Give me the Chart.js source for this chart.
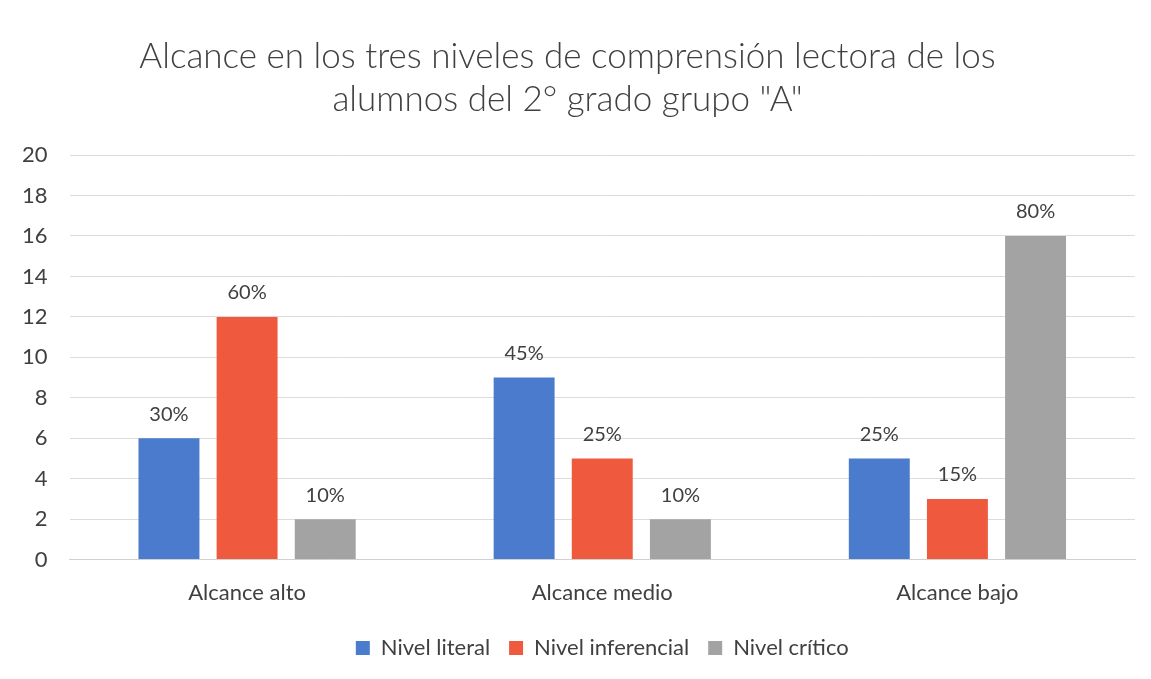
<!DOCTYPE html>
<html>
<head>
<meta charset="utf-8">
<script src="https://cdn.jsdelivr.net/npm/chart.js@4"></script>
<style>
  html, body { margin: 0; padding: 0; background: #fff; }
  #wrap { width: 1151px; height: 679px; }
</style>
</head>
<body>
<div id="wrap"><canvas id="myChart"></canvas></div>
<script>
const categories = ["Alcance alto", "Alcance medio", "Alcance bajo"]
const literal = [6, 9, 5]
const inferencial = [12, 5, 3]
const critico = [2, 2, 16]
const literalPct = ["30%", "45%", "25%"]
const inferencialPct = ["60%", "25%", "15%"]
const criticoPct = ["10%", "10%", "80%"]

const fontFamily = "Lato, 'Open Sans', sans-serif"

// draws the percent above each bar
const barLabels = {
    id: "barLabels",
    afterDatasetsDraw(chart) {
        const ctx = chart.ctx
        ctx.save()
        ctx.font = "20px " + fontFamily
        ctx.fillStyle = "#404040"
        ctx.textAlign = "center"
        ctx.textBaseline = "middle"
        chart.data.datasets.forEach((ds, i) => {
            chart.getDatasetMeta(i).data.forEach((bar, j) => {
                ctx.fillText(ds.pctLabels[j], bar.x, bar.y - 24)
            })
        })
        ctx.restore()
    }
}

const ctx = document.getElementById("myChart").getContext("2d")

new Chart(ctx, {
    type: "bar",
    data: {
        labels: categories,
        datasets: [
            { label: "Nivel literal", data: literal, pctLabels: literalPct, backgroundColor: "#4a7bcc" },
            { label: "Nivel inferencial", data: inferencial, pctLabels: inferencialPct, backgroundColor: "#ef5a3e" },
            { label: "Nivel crítico", data: critico, pctLabels: criticoPct, backgroundColor: "#a3a3a3" }
        ]
    },
    options: {
        responsive: true,
        maintainAspectRatio: false,
        animation: false,
        layout: { padding: { left: 0, right: 16, top: 35, bottom: 10 } },
        datasets: {
            bar: { barPercentage: 0.78, categoryPercentage: 0.66 }
        },
        scales: {
            x: {
                grid: { display: false },
                border: { color: "#d0d0d0" },
                ticks: { color: "#404040", font: { family: fontFamily, size: 22 }, padding: 12 }
            },
            y: {
                min: 0,
                max: 20,
                ticks: { stepSize: 2, color: "#404040", font: { family: fontFamily, size: 22 }, padding: 22 },
                grid: { color: "#dcdcdc", drawTicks: false },
                border: { display: false }
            }
        },
        plugins: {
            title: {
                display: true,
                text: ["Alcance en los tres niveles de comprensión lectora de los", "alumnos del 2° grado grupo \"A\""],
                color: "#404040",
                font: { family: fontFamily, size: 35, weight: 300, lineHeight: 1.23 },
                padding: { top: 0, bottom: 34 }
            },
            legend: {
                position: "bottom",
                fullSize: false,
                labels: {
                    color: "#404040",
                    font: { family: fontFamily, size: 22 },
                    boxWidth: 14,
                    boxHeight: 14,
                    padding: 19
                }
            },
            tooltip: { enabled: false }
        }
    },
    plugins: [barLabels]
})
</script>
</body>
</html>
